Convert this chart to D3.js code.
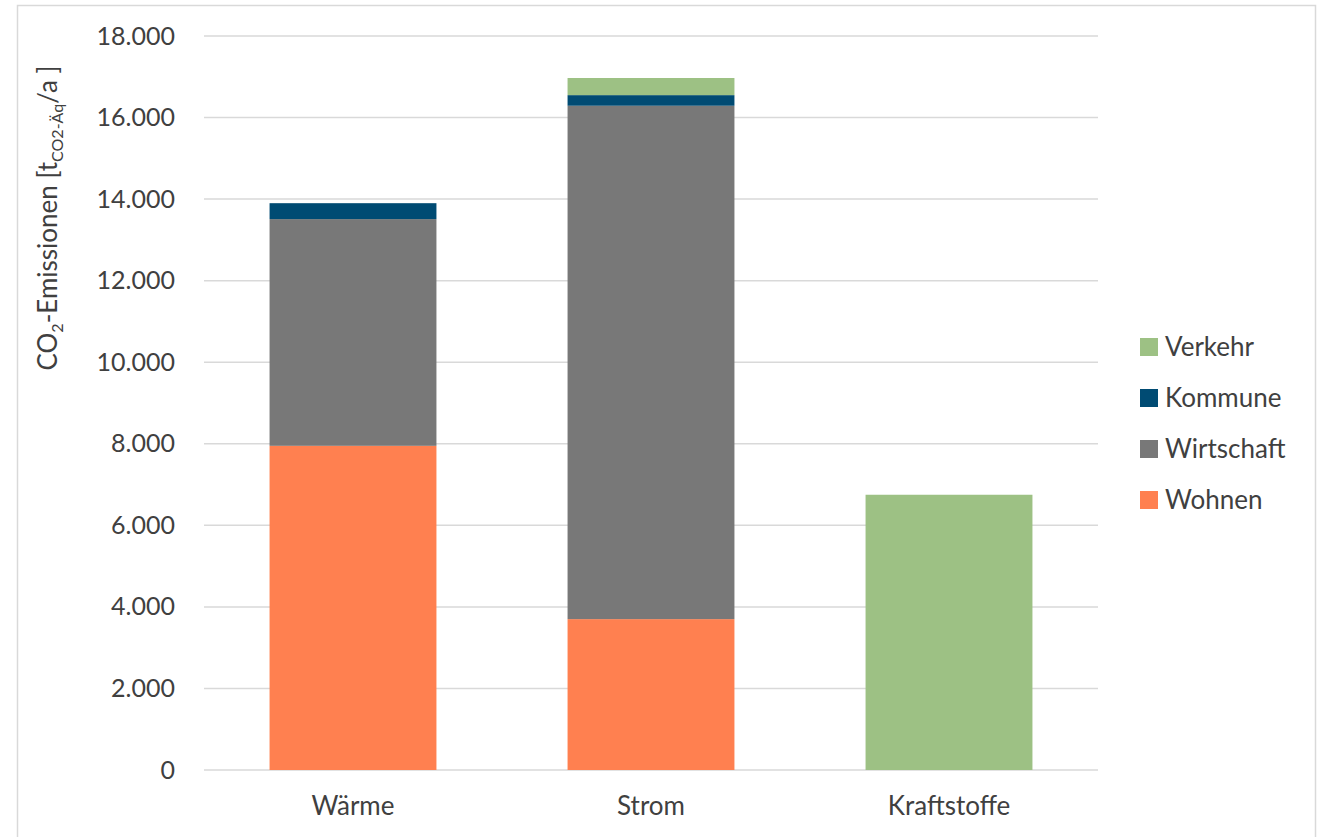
<!DOCTYPE html>
<html>
<head>
<meta charset="utf-8">
<script src="https://cdn.jsdelivr.net/npm/d3@7"></script>
<style>
  html, body { margin: 0; padding: 0; background: #fff; }
  svg { display: block; font-family: Lato, "Open Sans", sans-serif; }
</style>
</head>
<body>
<svg id="chart" width="1326" height="837"></svg>
<script>
// Energy carriers on the x axis
const categories = ["Wärme", "Strom", "Kraftstoffe"];
// Sectors, bottom to top of each stack
const sectors = ["Wohnen", "Wirtschaft", "Kommune", "Verkehr"];
// CO2 emissions per sector and carrier [t CO2-Äq / a]
const wohnen     = [7950, 3700, 0];
const wirtschaft = [5560, 12590, 0];
const kommune    = [390, 260, 0];
const verkehr    = [0, 420, 6750];
const yTicks = [0, 2000, 4000, 6000, 8000, 10000, 12000, 14000, 16000, 18000];
const colors = ["#ff8050", "#787878", "#004b73", "#9dc184"];

const svg = d3.select("#chart");
const margin = { left: 204, right: 228, top: 36, bottom: 67 };
const W = 1326, H = 837;

// outer frame
svg.append("rect")
  .attr("x", 17.5).attr("y", 5.5)
  .attr("width", 1298).attr("height", 840)
  .attr("fill", "none").attr("stroke", "#d9d9d9").attr("stroke-width", 1.5);

const x = d3.scaleBand()
  .domain(categories)
  .range([margin.left, W - margin.right])
  .paddingInner(0.44).paddingOuter(0.22);

const y = d3.scaleLinear()
  .domain([0, 18000])
  .range([H - margin.bottom, margin.top]);

const fmt = d => d3.format(",")(d).replace(/,/g, ".");

// horizontal gridlines
svg.append("g")
  .selectAll("line")
  .data(yTicks)
  .join("line")
  .attr("x1", margin.left).attr("x2", W - margin.right)
  .attr("y1", d => y(d)).attr("y2", d => y(d))
  .attr("stroke", "#d9d9d9").attr("stroke-width", 1.5);

// y axis labels
const yAxis = svg.append("g")
  .attr("transform", `translate(${margin.left},0)`)
  .call(d3.axisLeft(y).tickValues(yTicks).tickFormat(fmt).tickSize(0).tickPadding(29));
yAxis.select(".domain").remove();
yAxis.selectAll("text")
  .attr("font-family", "Lato, 'Open Sans', sans-serif")
  .attr("font-size", 25).attr("fill", "#404040");

// stacked bars
const rows = categories.map((c, i) => ({
  cat: c, Wohnen: wohnen[i], Wirtschaft: wirtschaft[i], Kommune: kommune[i], Verkehr: verkehr[i]
}));
const stacked = d3.stack().keys(sectors)(rows);

svg.append("g")
  .selectAll("g")
  .data(stacked)
  .join("g")
  .attr("fill", (d, i) => colors[i])
  .selectAll("rect")
  .data(d => d.filter(p => p[1] > p[0]))
  .join("rect")
  .attr("x", d => x(d.data.cat))
  .attr("width", x.bandwidth())
  .attr("y", d => y(d[1]))
  .attr("height", d => y(d[0]) - y(d[1]));

// x axis
const xAxis = svg.append("g")
  .attr("transform", `translate(0,${H - margin.bottom})`)
  .call(d3.axisBottom(x).tickSize(0).tickPadding(27));
xAxis.select(".domain").remove();
xAxis.selectAll("text")
  .attr("font-family", "Lato, 'Open Sans', sans-serif")
  .attr("font-size", 26).attr("fill", "#404040");

// y axis title
const title = svg.append("text")
  .attr("transform", "translate(57,218) rotate(-90)")
  .attr("text-anchor", "middle")
  .attr("font-size", 26).attr("fill", "#404040");
title.append("tspan").text("CO");
title.append("tspan").attr("font-size", 16).attr("dy", 6).text("2");
title.append("tspan").attr("dy", -6).text("-Emissionen [t");
title.append("tspan").attr("font-size", 16).attr("dy", 6).text("CO2-Äq");
title.append("tspan").attr("dy", -6).text("/a ]");

// legend, top entry is the top of the stack
const legendItems = sectors.map((s, i) => ({ name: s, color: colors[i] })).reverse();
const legend = svg.append("g")
  .selectAll("g")
  .data(legendItems)
  .join("g")
  .attr("transform", (d, i) => `translate(1140,${347 + i * 51})`);
legend.append("rect")
  .attr("x", 0).attr("y", -9).attr("width", 18).attr("height", 18)
  .attr("fill", d => d.color);
legend.append("text")
  .attr("x", 25).attr("y", 0).attr("dy", "0.35em")
  .attr("font-size", 26).attr("fill", "#404040")
  .text(d => d.name);
</script>
</body>
</html>
